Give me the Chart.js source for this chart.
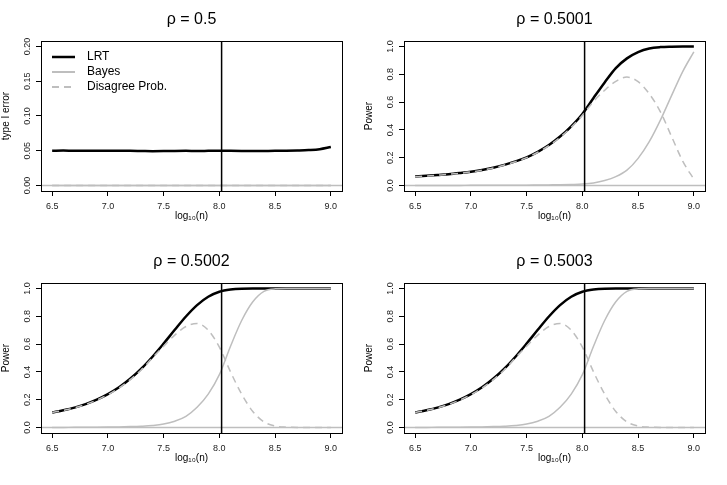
<!DOCTYPE html>
<html>
<head>
<meta charset="utf-8">
<script src="https://cdn.jsdelivr.net/npm/chart.js@4.4.1/dist/chart.umd.min.js"></script>
<style>
  body { margin: 0; background: #fff; }
  #wrap { position: relative; width: 727px; height: 485px; background: #fff; }
  #wrap canvas { position: absolute; }
</style>
</head>
<body>
<div id="wrap">
  <canvas id="p1" width="363" height="242" style="left:0;top:0"></canvas>
  <canvas id="p2" width="364" height="242" style="left:363px;top:0"></canvas>
  <canvas id="p3" width="363" height="243" style="left:0;top:242px"></canvas>
  <canvas id="p4" width="364" height="243" style="left:363px;top:242px"></canvas>
</div>
<script>
// log10(n) grid, shared by every panel
const logN = [6.5, 6.6, 6.7, 6.8, 6.9, 7.0, 7.1, 7.2, 7.3, 7.4, 7.5, 7.6, 7.7,
              7.8, 7.9, 8.0, 8.1, 8.2, 8.3, 8.4, 8.5, 8.6, 8.7, 8.8, 8.9, 9.0];
const xTicks = [6.5, 7.0, 7.5, 8.0, 8.5, 9.0];
const cutoff = 8.02; // vertical reference line

const titles = ['\u03C1 = 0.5', '\u03C1 = 0.5001', '\u03C1 = 0.5002', '\u03C1 = 0.5003'];
const yTitles = ['type I error', 'Power', 'Power', 'Power'];
const yTicksErr = [0, 0.05, 0.10, 0.15, 0.20];
const yTicksPow = [0, 0.2, 0.4, 0.6, 0.8, 1.0];
const legendLabels = ['LRT', 'Bayes', 'Disagree Prob.'];

// rho = 0.5
const lrt1 = [0.0500, 0.0503, 0.0499, 0.0500, 0.0498, 0.0501, 0.0499, 0.0498, 0.0496, 0.0494, 0.0495, 0.0497, 0.0498,
              0.0497, 0.0498, 0.0499, 0.0498, 0.0497, 0.0496, 0.0497, 0.0498, 0.0500, 0.0504, 0.0510, 0.0522, 0.0553];
const bayes1 = [0, 0, 0, 0, 0, 0, 0, 0, 0, 0, 0, 0, 0, 0, 0, 0, 0, 0, 0, 0, 0, 0, 0, 0, 0, 0];
const dis1 = [0, 0, 0, 0, 0, 0, 0, 0, 0, 0, 0, 0, 0, 0, 0, 0, 0, 0, 0, 0, 0, 0, 0, 0, 0, 0];

// rho = 0.5001
const lrt2 = [0.064, 0.069, 0.075, 0.081, 0.089, 0.098, 0.111, 0.127, 0.148, 0.173, 0.202, 0.242, 0.291,
              0.352, 0.426, 0.515, 0.630, 0.742, 0.845, 0.915, 0.960, 0.986, 0.996, 0.999, 1.000, 1.000];
const bayes2 = [0, 0, 0, 0, 0, 0.001, 0.001, 0.001, 0.001, 0.002, 0.002, 0.003, 0.004,
                0.005, 0.007, 0.010, 0.018, 0.035, 0.063, 0.110, 0.195, 0.315, 0.470, 0.647, 0.820, 0.962];
const dis2 = [0.063, 0.068, 0.074, 0.080, 0.088, 0.097, 0.110, 0.126, 0.147, 0.171, 0.200, 0.239, 0.287,
              0.347, 0.419, 0.505, 0.605, 0.685, 0.750, 0.780, 0.747, 0.660, 0.530, 0.352, 0.175, 0.045];

// rho = 0.5002
const lrt3 = [0.108, 0.124, 0.143, 0.168, 0.200, 0.240, 0.289, 0.350, 0.423, 0.509, 0.604, 0.703, 0.799,
              0.881, 0.941, 0.977, 0.993, 0.999, 1, 1, 1, 1, 1, 1, 1, 1];
const bayes3 = [0, 0, 0.001, 0.001, 0.002, 0.003, 0.004, 0.006, 0.009, 0.014, 0.024, 0.045, 0.080,
                0.145, 0.240, 0.380, 0.585, 0.770, 0.905, 0.980, 0.998, 1, 1, 1, 1, 1];
const dis3 = [0.108, 0.123, 0.142, 0.166, 0.197, 0.236, 0.284, 0.344, 0.416, 0.502, 0.585, 0.665, 0.727,
              0.748, 0.700, 0.578, 0.400, 0.240, 0.115, 0.040, 0.010, 0.002, 0, 0, 0, 0];

// rho = 0.5003
const lrt4 = [0.108, 0.124, 0.143, 0.168, 0.200, 0.240, 0.289, 0.350, 0.423, 0.509, 0.604, 0.703, 0.799,
              0.881, 0.941, 0.977, 0.993, 0.999, 1, 1, 1, 1, 1, 1, 1, 1];
const bayes4 = [0, 0, 0.001, 0.001, 0.002, 0.003, 0.004, 0.006, 0.009, 0.014, 0.024, 0.045, 0.080,
                0.145, 0.240, 0.380, 0.585, 0.770, 0.905, 0.980, 0.998, 1, 1, 1, 1, 1];
const dis4 = [0.108, 0.123, 0.142, 0.166, 0.197, 0.236, 0.284, 0.344, 0.416, 0.502, 0.585, 0.665, 0.727,
              0.748, 0.700, 0.578, 0.400, 0.240, 0.115, 0.040, 0.010, 0.002, 0, 0, 0, 0];

const GREY = '#bebebe';
const FONT = '"Liberation Sans", Arial, Helvetica, sans-serif';
const DASH = [7, 5];

const pts = arr => logN.map((x, i) => ({ x: x, y: arr[i] }));

// box, rotated y tick labels and (optionally) the legend, R style
const rFrame = {
  id: 'rFrame',
  afterDraw(chart, args, opts) {
    const { ctx, chartArea: ca } = chart;
    const y = chart.scales.y;
    ctx.save();
    ctx.strokeStyle = '#000';
    ctx.lineWidth = 1;
    ctx.strokeRect(ca.left + 0.5, ca.top + 0.5, ca.width, ca.height);

    ctx.fillStyle = '#222';
    ctx.font = '9px ' + FONT;
    ctx.textAlign = 'center';
    ctx.textBaseline = 'middle';
    y.ticks.forEach(t => {
      ctx.save();
      ctx.translate(ca.left - 13.5, y.getPixelForValue(t.value));
      ctx.rotate(-Math.PI / 2);
      ctx.fillText(t.value.toFixed(opts.digits), 0, 0);
      ctx.restore();
    });

    if (opts.legend) {
      const styles = [
        { color: '#000', width: 2.5, dash: [] },
        { color: GREY, width: 2, dash: [] },
        { color: GREY, width: 2, dash: DASH }
      ];
      ctx.font = '12px ' + FONT;
      ctx.textAlign = 'left';
      legendLabels.forEach((lab, i) => {
        const yy = ca.top + 16 + i * 15;
        ctx.beginPath();
        ctx.strokeStyle = styles[i].color;
        ctx.lineWidth = styles[i].width;
        ctx.setLineDash(styles[i].dash);
        ctx.moveTo(ca.left + 11, yy);
        ctx.lineTo(ca.left + 34, yy);
        ctx.stroke();
        ctx.setLineDash([]);
        ctx.fillStyle = '#000';
        ctx.fillText(lab, ca.left + 46, yy);
      });
    }
    ctx.restore();
  }
};

function makePanel(id, k, lrt, bayes, dis, yMin, yMax, yTicks, digits, legend) {
  const canvas = document.getElementById(id);
  const W = canvas.width, H = canvas.height;
  new Chart(canvas, {
    type: 'scatter',
    data: {
      datasets: [
        { data: [{ x: cutoff, y: -10 }, { x: cutoff, y: 10 }], borderColor: '#000', borderWidth: 1.5, order: 0 },
        { label: legendLabels[2], data: pts(dis), borderColor: GREY, borderWidth: 1.5, borderDash: DASH, order: 1 },
        { label: legendLabels[1], data: pts(bayes), borderColor: GREY, borderWidth: 1.5, order: 2 },
        { label: legendLabels[0], data: pts(lrt), borderColor: '#000', borderWidth: 2.5, order: 3 },
        { data: [{ x: 0, y: 0 }, { x: 20, y: 0 }], borderColor: GREY, borderWidth: 1.5, order: 4 }
      ].map(d => Object.assign({ showLine: true, pointRadius: 0, cubicInterpolationMode: 'monotone' }, d))
    },
    options: {
      responsive: false,
      devicePixelRatio: 1,
      animation: false,
      layout: { padding: { left: 0, right: W - 342, top: 0, bottom: 0 } },
      plugins: {
        legend: { display: false },
        tooltip: { enabled: false },
        title: {
          display: true,
          text: titles[k],
          fullSize: false,
          color: '#000',
          font: { family: FONT, size: 16, weight: 'normal' },
          padding: { top: 10, bottom: 11.8 }
        },
        rFrame: { digits: digits, legend: legend }
      },
      scales: {
        x: {
          type: 'linear',
          min: 6.4,
          max: 9.1,
          afterBuildTicks: axis => { axis.ticks = xTicks.map(v => ({ value: v })); },
          afterFit: axis => { axis.height = H - 191; },
          grid: { drawOnChartArea: false, drawTicks: true, tickLength: 5, color: '#000' },
          border: { display: false },
          ticks: {
            autoSkip: false, maxRotation: 0, padding: 5, color: '#222',
            font: { family: FONT, size: 9 },
            callback: v => Number(v).toFixed(1)
          },
          title: {
            display: true, text: 'log\u2081\u2080(n)', color: '#000',
            font: { family: FONT, size: 10 },
            padding: { top: 0, bottom: H - 222 }
          }
        },
        y: {
          type: 'linear',
          min: yMin,
          max: yMax,
          afterBuildTicks: axis => { axis.ticks = yTicks.map(v => ({ value: v })); },
          afterFit: axis => { axis.width = 41; },
          grid: { drawOnChartArea: false, drawTicks: true, tickLength: 5, color: '#000' },
          border: { display: false },
          ticks: { display: false },
          title: {
            display: true, text: yTitles[k], color: '#000',
            font: { family: FONT, size: 10 },
            padding: { top: 0, bottom: 0 }
          }
        }
      }
    },
    plugins: [rFrame]
  });
}

makePanel('p1', 0, lrt1, bayes1, dis1, -0.008, 0.208, yTicksErr, 2, true);
makePanel('p2', 1, lrt2, bayes2, dis2, -0.04, 1.04, yTicksPow, 1, false);
makePanel('p3', 2, lrt3, bayes3, dis3, -0.04, 1.04, yTicksPow, 1, false);
makePanel('p4', 3, lrt4, bayes4, dis4, -0.04, 1.04, yTicksPow, 1, false);
</script>
</body>
</html>
